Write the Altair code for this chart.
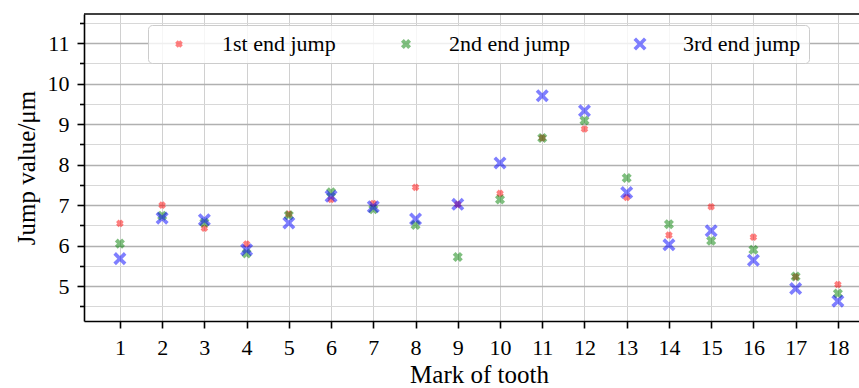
import math

import altair as alt
import pandas as pd

# Tooth marks and the three measured end-jump series (µm)
teeth = list(range(1, 19))
series_names = ["1st end jump", "2nd end jump", "3rd end jump"]
jump_1st = [6.55, 7.00, 6.43, 6.04, 6.78, 7.14, 7.04, 7.44, 7.02,
            7.29, 8.66, 8.88, 7.19, 6.26, 6.96, 6.21, 5.23, 5.04]
jump_2nd = [6.05, 6.74, 6.57, 5.81, 6.75, 7.32, 6.90, 6.51, 5.72,
            7.14, 8.66, 9.09, 7.67, 6.53, 6.12, 5.90, 5.24, 4.82]
jump_3rd = [5.68, 6.68, 6.64, 5.90, 6.56, 7.22, 6.96, 6.66, 7.02,
            8.04, 9.70, 9.33, 7.31, 6.02, 6.37, 5.64, 4.94, 4.63]
series_colors = ["#ff0000", "#008000", "#0000ff"]

x_ticks = list(range(1, 19))
y_ticks = [v / 2 for v in range(9, 24)]  # 4.5 ... 11.5, labels on whole numbers

PLOT_W, PLOT_H = 775, 307
FONT = "Liberation Serif"
SYMBOL_SIZE = 200
UNIT = math.sqrt(SYMBOL_SIZE) / 2  # pixels per symbol-path unit


def x_marker(arm_px, half_px):
    """Plus-shaped polygon turned 45 degrees, as a Vega symbol path."""
    a, h = arm_px / UNIT, half_px / UNIT
    pts = [(-h, -a), (h, -a), (h, -h), (a, -h), (a, h), (h, h),
           (h, a), (-h, a), (-h, h), (-a, h), (-a, -h), (-h, -h)]
    c = math.sqrt(0.5)
    rot = [((x - y) * c, (x + y) * c) for x, y in pts]
    return "M" + "L".join(f"{x:.3f},{y:.3f}" for x, y in rot) + "Z"


series_shapes = [x_marker(3.6, 1.8), x_marker(5.1, 2.0), x_marker(7.4, 1.8)]

rows = []
for name, vals in zip(series_names, [jump_1st, jump_2nd, jump_3rd]):
    for t, v in zip(teeth, vals):
        rows.append({"tooth": t, "jump": v, "series": name})
df = pd.DataFrame(rows)

legend = alt.Legend(
    title=None,
    orient="none",
    legendX=64,
    legendY=11,
    direction="horizontal",
    padding=8,
    symbolOffset=12,
    labelOffset=32,
    columnPadding=47,
    fillColor="rgba(255,255,255,0.8)",
    strokeColor="#cccccc",
    cornerRadius=4,
    symbolSize=SYMBOL_SIZE,
    symbolOpacity=0.5,
    symbolStrokeWidth=0,
    labelFont=FONT,
    labelFontSize=22,
    labelColor="black",
)

points = alt.Chart(df).mark_point(
    filled=True, size=SYMBOL_SIZE, opacity=0.5, strokeWidth=0
).encode(
    x=alt.X(
        "tooth:Q",
        scale=alt.Scale(domain=[0.15, 18.5], nice=False, zero=False),
        axis=alt.Axis(
            values=x_ticks,
            format="d",
            title="Mark of tooth",
            titleX=395,
            titleAlign="center",
            grid=True,
            gridColor="#d0d0d0",
            gridWidth=1,
            tickSize=7,
            labelPadding=9,
            titlePadding=4,
            labelFlush=False,
        ),
    ),
    y=alt.Y(
        "jump:Q",
        scale=alt.Scale(domain=[4.14, 11.72], nice=False, zero=False),
        axis=alt.Axis(
            values=y_ticks,
            title="Jump value/μm",
            labelExpr="datum.value % 1 === 0 ? format(datum.value, 'd') : ''",
            grid=True,
            gridColor={"condition": {"test": "datum.value % 1 !== 0", "value": "#d8d8d8"},
                       "value": "#b0b0b0"},
            gridWidth={"condition": {"test": "datum.value % 1 !== 0", "value": 1},
                       "value": 1.6},
            tickSize={"condition": {"test": "datum.value % 1 !== 0", "value": 4.5},
                      "value": 7},
            labelPadding=8,
            titlePadding=8,
            labelFlush=False,
        ),
    ),
    color=alt.Color("series:N",
                    scale=alt.Scale(domain=series_names, range=series_colors),
                    legend=legend),
    shape=alt.Shape("series:N",
                    scale=alt.Scale(domain=series_names, range=series_shapes),
                    legend=legend),
)

# Upper frame line of the plot area
top_line = alt.Chart(pd.DataFrame({"k": [0]})).mark_rule(
    color="black", strokeWidth=1.6
).encode(x=alt.value(0), x2=alt.value(PLOT_W), y=alt.value(0))

chart = alt.layer(points, top_line).properties(
    width=PLOT_W,
    height=PLOT_H,
    autosize=alt.AutoSizeParams(type="none"),
    padding={"left": 84, "top": 14, "right": 0, "bottom": 67},
).configure_view(
    stroke=None
).configure_axis(
    domainColor="black",
    domainWidth=1.6,
    tickColor="black",
    tickWidth=1.6,
    labelFont=FONT,
    labelFontSize=22,
    labelColor="black",
    titleFont=FONT,
    titleFontSize=25,
    titleFontWeight="normal",
    titleColor="black",
)

chart.save("out.html", embed_options={"renderer": "svg", "actions": False})
